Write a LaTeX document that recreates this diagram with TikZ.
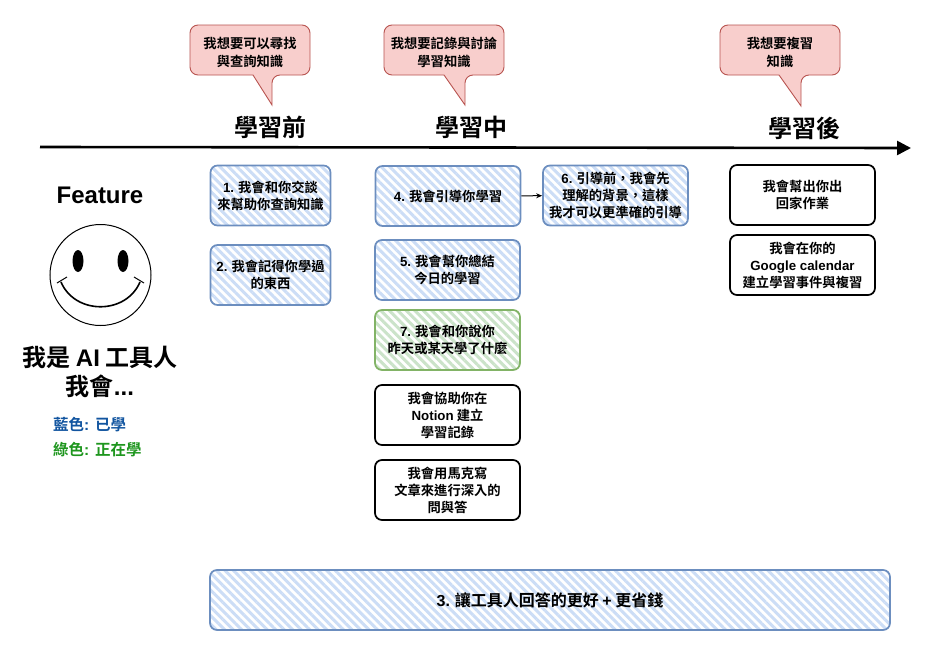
\documentclass[tikz,border=0pt]{standalone}
\usepackage{fontspec}
\setmainfont{Noto Sans CJK TC Bold}
\newfontfamily\latf{Liberation Sans Bold}
\usetikzlibrary{patterns.meta,arrows.meta}
\newcommand\ltn[1]{{\latf #1}}
\definecolor{bstroke}{HTML}{6C8EBF}
\definecolor{bhatch}{HTML}{CCDDF6}
\definecolor{gstroke}{HTML}{82B366}
\definecolor{ghatch}{HTML}{CBE3C9}
\definecolor{rfill}{HTML}{F8CECC}
\definecolor{rstroke}{HTML}{B85450}
\definecolor{legblue}{RGB}{18,85,160}
\definecolor{leggreen}{RGB}{30,150,30}
\begin{document}
\begin{tikzpicture}[x=1pt,y=-1pt,
  boxtext/.style={font=\fontsize{13.3}{17}\selectfont, align=center},
  basebox/.style={boxtext, rounded corners=7pt, line width=1.7pt, inner sep=0pt,
    minimum height=60, minimum width=145},
  bluebox/.style={basebox, draw=bstroke,
    pattern={Lines[angle=-45,distance=6pt,line width=3pt]}, pattern color=bhatch},
  greenbox/.style={basebox, draw=gstroke,
    pattern={Lines[angle=-45,distance=6pt,line width=3pt]}, pattern color=ghatch},
  blackbox/.style={basebox, draw=black},
  callout/.style={draw=rstroke, fill=rfill, line width=0.9pt},
  calltext/.style={font=\fontsize{13.3}{18}\selectfont, align=center},
  header/.style={font=\fontsize{24}{28}\selectfont}
]
\useasboundingbox (0,0) rectangle (930,651);
\fill[white] (0,0) rectangle (930,651);

% callouts
\draw[callout] (250,25) [rounded corners=8pt] -- (310,25) -- (310,75) -- (272,75) [sharp corners] -- (272,105) -- (253,75) [rounded corners=8pt] -- (190,75) -- (190,25) -- cycle;
\node[calltext] (c1) at (250,52) {我想要可以尋找\\與查詢知識};
\draw[callout] (444,25) [rounded corners=8pt] -- (504,25) -- (504,75) -- (465,75) [sharp corners] -- (465,105) -- (444,75) [rounded corners=8pt] -- (384,75) -- (384,25) -- cycle;
\node[calltext] (c2) at (444,52) {我想要記錄與討論\\學習知識};
\draw[callout] (780,25) [rounded corners=8pt] -- (840,25) -- (840,75) -- (801,75) [sharp corners] -- (801,106) -- (779,75) [rounded corners=8pt] -- (720,75) -- (720,25) -- cycle;
\node[calltext] (c3) at (780,52) {我想要複習\\知識};

% headers
\node[header] (h1) at (270,127) {學習前};
\node[header] (h2) at (471,127) {學習中};
\node[header] (h3) at (804,128) {學習後};

% timeline
\coordinate (tl0) at (40,147);
\coordinate (tl1) at (911,148);
\draw[line width=2.6pt, -{Triangle[length=14pt,width=14pt]}] (tl0) -- (tl1);

% left side
\node[font=\latf\fontsize{24}{28}\selectfont] (feat) at (100,195) {Feature};
\draw[line width=1pt] (100.5,275) circle (50.5);
\fill (78,261) ellipse (5.5 and 11);
\fill (123,261) ellipse (5.5 and 11);
\draw[line width=1.6pt] (61,282) .. controls (75,315) and (126,315) .. (140,282);
\draw[line width=1pt] (57,283) -- (67,277);
\draw[line width=1pt] (134,277) -- (144,283);
\node[font=\fontsize{24}{29}\selectfont, align=center] (me) at (100,371.5) {我是 \ltn{AI} 工具人\\我會\ltn{...}};
\node[anchor=west, font=\fontsize{15.5}{18}\selectfont, text=legblue, inner sep=0pt] (lb) at (53,425) {藍色\ltn{: }已學};
\node[anchor=west, font=\fontsize{15.5}{18}\selectfont, text=leggreen, inner sep=0pt] (lg) at (53,450) {綠色\ltn{: }正在學};

% boxes
\node[bluebox, minimum width=120] (b1) at (270.5,195.5) {\ltn{1.} 我會和你交談\\來幫助你查詢知識};
\node[bluebox, minimum width=120] (b2) at (270.5,275) {\ltn{2.} 我會記得你學過\\的東西};
\node[bluebox] (b4) at (448,196) {\ltn{4.} 我會引導你學習};
\node[bluebox] (b6) at (615.5,195.5) {\ltn{6.} 引導前，我會先\\理解的背景，這樣\\我才可以更準確的引導};
\node[bluebox] (b5) at (447.5,270) {\ltn{5.} 我會幫你總結\\今日的學習};
\node[greenbox] (b7) at (447.5,340) {\ltn{7.} 我會和你說你\\昨天或某天學了什麼};
\node[blackbox] (bn) at (447.5,415) {我會協助你在\\\ltn{Notion} 建立\\學習記錄};
\node[blackbox] (bm) at (447.5,490) {我會用馬克寫\\文章來進行深入的\\問與答};
\node[blackbox] (bh) at (802.5,195) {我會幫出你出\\回家作業};
\node[blackbox] (bg) at (802.5,265) {我會在你的\\\ltn{Google calendar}\\建立學習事件與複習};
\node[bluebox, minimum width=680, font=\fontsize{16}{20}\selectfont] (b3) at (550,600) {\ltn{3.} 讓工具人回答的更好 \ltn{+} 更省錢};

\draw[line width=1pt, -{Stealth[length=6pt,width=5pt]}] (b4) -- (b6);
\end{tikzpicture}
\end{document}
